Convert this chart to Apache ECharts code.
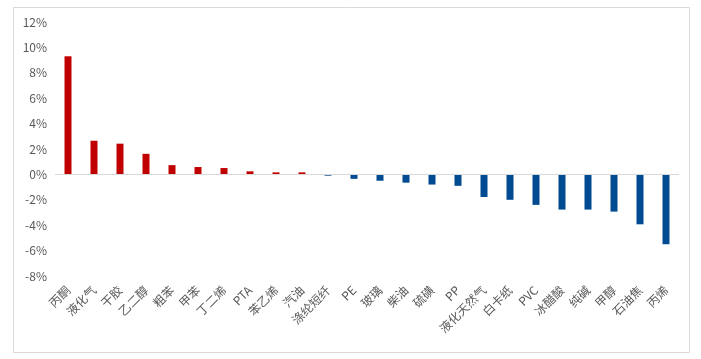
<!DOCTYPE html>
<html>
<head>
<meta charset="utf-8">
<script src="https://cdn.jsdelivr.net/npm/echarts@6/dist/echarts.min.js"></script>
<style>
html,body{margin:0;padding:0;background:#fff;}
#c{width:701px;height:359px;}
</style>
</head>
<body>
<div id="c"></div>
<script>
const categories = ['丙酮','液化气','干胶','乙二醇','粗苯','甲苯','丁二烯','PTA','苯乙烯','汽油','涤纶短纤','PE','玻璃','柴油','硫磺','PP','液化天然气','白卡纸','PVC','冰醋酸','纯碱','甲醇','石油焦','丙烯'];
const values = [9.3, 2.65, 2.42, 1.62, 0.73, 0.58, 0.5, 0.24, 0.16, 0.16, -0.1, -0.35, -0.5, -0.65, -0.8, -0.9, -1.78, -2.0, -2.4, -2.77, -2.77, -2.93, -3.93, -5.5];
const yTicks = {min: -8, max: 12, interval: 2};

const chart = echarts.init(document.getElementById('c'));
chart.setOption({
  animation: false,
  textStyle: {fontFamily: '"Noto Sans CJK SC", sans-serif'},
  graphic: [{
    type: 'rect', shape: {x: 13.5, y: 7.5, width: 676, height: 345},
    style: {fill: 'none', stroke: '#d9d9d9', lineWidth: 1}, silent: true, z: -1
  }],
  grid: {left: 55, right: 22, top: 22, bottom: 83},
  xAxis: {
    type: 'category', data: categories,
    axisLine: {show: false, onZero: false},
    axisTick: {show: false},
    axisLabel: {rotate: 45, interval: 0, margin: 12, color: '#595959', fontSize: 12}
  },
  yAxis: {
    type: 'value', min: yTicks.min, max: yTicks.max, interval: yTicks.interval,
    splitLine: {show: false},
    axisLine: {show: false}, axisTick: {show: false},
    axisLabel: {formatter: '{value}%', color: '#595959', fontSize: 12, margin: 8}
  },
  series: [{
    type: 'bar', barWidth: 7,
    data: values.map(v => ({value: v, itemStyle: {color: v >= 0 ? '#c00000' : '#004a91'}})),
    markLine: {
      silent: true, symbol: 'none', label: {show: false},
      lineStyle: {color: '#d9d9d9', type: 'solid', width: 1},
      data: [{yAxis: 0}]
    }
  }]
});
</script>
</body>
</html>
